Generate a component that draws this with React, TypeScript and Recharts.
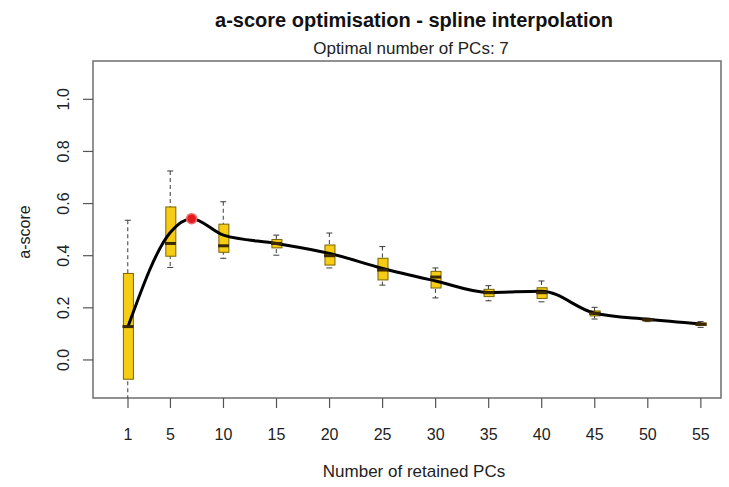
import React from 'react';
import {
    ComposedChart,
    Bar,
    Line,
    Scatter,
    XAxis,
    YAxis,
    ReferenceArea,
} from 'recharts';

// boxplots of a-score per number of retained PCs
const pcs = [1, 5, 10, 15, 20, 25, 30, 35, 40, 45, 50, 55];
const whiskerHigh = [0.536, 0.725, 0.607, 0.479, 0.487, 0.435, 0.353, 0.285, 0.303, 0.202, 0.16, 0.147];
const upperQuartile = [0.332, 0.587, 0.521, 0.462, 0.441, 0.39, 0.34, 0.271, 0.277, 0.188, 0.157, 0.142];
const medians = [0.128, 0.447, 0.438, 0.447, 0.4, 0.345, 0.318, 0.258, 0.258, 0.179, 0.154, 0.137];
const lowerQuartile = [-0.074, 0.398, 0.413, 0.43, 0.364, 0.307, 0.276, 0.243, 0.236, 0.169, 0.15, 0.132];
const whiskerLow = [-0.2, 0.355, 0.39, 0.402, 0.353, 0.287, 0.238, 0.227, 0.223, 0.157, 0.147, 0.125];

// spline through the mean a-scores
const splinePcs = [1, 5, 7, 10, 15, 20, 25, 30, 35, 40, 45, 50, 55];
const splineScores = [0.128, 0.49, 0.542, 0.479, 0.447, 0.409, 0.351, 0.303, 0.259, 0.264, 0.179, 0.156, 0.138];

const optimalPc = 7;
const optimalScore = 0.542;

const yTicks = [0, 0.2, 0.4, 0.6, 0.8, 1.0];

const X_DOMAIN: [number, number] = [-2.3, 56.9];
const Y_DOMAIN: [number, number] = [-0.146, 1.147];

const FONT = '"Liberation Sans", Arial, Helvetica, sans-serif';

const boxData = pcs.map((pc, i) => ({
    pc,
    lo: whiskerLow[i],
    q1: lowerQuartile[i],
    med: medians[i],
    q3: upperQuartile[i],
    hi: whiskerHigh[i],
}));

const splineData = splinePcs.map((pc, i) => ({ pc, score: splineScores[i] }));
const optimalData = [{ pc: optimalPc, score: optimalScore }];

const WhiskerShape = (props: any) => {
    const { x, y, width, height } = props;
    if (x == null || y == null) return null;
    const cx = x + width / 2;
    const top = Math.min(y, y + height);
    const bottom = Math.max(y, y + height);
    return (
        <g stroke="#3a3a3a" strokeWidth={1}>
            <line x1={cx} x2={cx} y1={top} y2={bottom} strokeDasharray="4 3" />
            <line x1={cx - 3} x2={cx + 3} y1={top} y2={top} />
            <line x1={cx - 3} x2={cx + 3} y1={bottom} y2={bottom} />
        </g>
    );
};

const BoxShape = (props: any) => {
    const { x, y, width, height } = props;
    if (x == null || y == null) return null;
    const top = Math.min(y, y + height);
    const h = Math.abs(height);
    return <rect x={x} y={top} width={width} height={h} fill="#f6cc14" stroke="#7a6400" strokeWidth={1} />;
};

const MedianShape = (props: any) => {
    const { cx, cy } = props;
    if (cx == null || cy == null) return null;
    return <line x1={cx - 5.5} x2={cx + 5.5} y1={cy} y2={cy} stroke="#3a2800" strokeWidth={3} />;
};

const OptimalShape = (props: any) => {
    const { cx, cy } = props;
    if (cx == null || cy == null) return null;
    return <circle cx={cx} cy={cy} r={5} fill="#e31a1c" stroke="#f06a6a" strokeWidth={1.5} />;
};

const XTick = (props: any) => {
    const { x, y, payload } = props;
    return (
        <text x={x} y={y + 30} textAnchor="middle" fontSize={16} fontFamily={FONT} fill="#222">
            {payload.value}
        </text>
    );
};

const YTick = (props: any) => {
    const { y, payload } = props;
    return (
        <text
            x={69}
            y={y}
            transform={`rotate(-90, 69, ${y})`}
            textAnchor="middle"
            fontSize={16}
            fontFamily={FONT}
            fill="#222"
        >
            {Number(payload.value).toFixed(1)}
        </text>
    );
};

export default function App() {
    return (
        <div style={{ position: 'absolute', left: 0, top: 0, width: 729, height: 487, background: '#fff' }}>
            <ComposedChart
                width={729}
                height={487}
                data={boxData}
                margin={{ top: 61, right: 8, left: 0, bottom: 0 }}
            >
                <XAxis
                    xAxisId="main"
                    type="number"
                    dataKey="pc"
                    domain={X_DOMAIN}
                    ticks={pcs}
                    interval={0}
                    allowDataOverflow
                    axisLine={false}
                    tickSize={10}
                    tickLine={{ stroke: '#555', strokeWidth: 1.2 }}
                    tick={<XTick />}
                    height={89}
                />
                <XAxis xAxisId="w" type="number" dataKey="pc" domain={X_DOMAIN} allowDataOverflow hide />
                <YAxis
                    type="number"
                    domain={Y_DOMAIN}
                    ticks={yTicks}
                    interval={0}
                    allowDataOverflow
                    axisLine={false}
                    tickSize={10}
                    tickLine={{ stroke: '#555', strokeWidth: 1.2 }}
                    tick={<YTick />}
                    width={93}
                />
                <ReferenceArea
                    xAxisId="main"
                    x1={X_DOMAIN[0]}
                    x2={X_DOMAIN[1]}
                    y1={Y_DOMAIN[0]}
                    y2={Y_DOMAIN[1]}
                    fill="none"
                    stroke="#6e6e6e"
                    strokeWidth={1.5}
                    ifOverflow="visible"
                />
                <Bar
                    xAxisId="w"
                    dataKey={(d: any) => [d.lo, d.hi]}
                    barSize={10}
                    shape={<WhiskerShape />}
                    isAnimationActive={false}
                />
                <Bar
                    xAxisId="main"
                    dataKey={(d: any) => [d.q1, d.q3]}
                    barSize={10}
                    shape={<BoxShape />}
                    isAnimationActive={false}
                />
                <Scatter
                    xAxisId="main"
                    data={boxData}
                    dataKey="med"
                    shape={<MedianShape />}
                    isAnimationActive={false}
                />
                <Line
                    xAxisId="main"
                    data={splineData}
                    dataKey="score"
                    type="monotone"
                    stroke="#000"
                    strokeWidth={3}
                    dot={false}
                    activeDot={false}
                    isAnimationActive={false}
                />
                <Scatter
                    xAxisId="main"
                    data={optimalData}
                    dataKey="score"
                    shape={<OptimalShape />}
                    isAnimationActive={false}
                />
            </ComposedChart>
            <svg
                width={729}
                height={487}
                style={{ position: 'absolute', left: 0, top: 0, pointerEvents: 'none' }}
                fontFamily={FONT}
            >
                <text x={414} y={27} textAnchor="middle" fontSize={20} fontWeight="bold" fill="#111">
                    a-score optimisation - spline interpolation
                </text>
                <text x={411} y={54} textAnchor="middle" fontSize={17} fill="#222">
                    Optimal number of PCs: 7
                </text>
                <text x={414} y={477} textAnchor="middle" fontSize={17} fill="#222">
                    Number of retained PCs
                </text>
                <text x={30} y={232} transform="rotate(-90, 30, 232)" textAnchor="middle" fontSize={16} fill="#222">
                    a-score
                </text>
            </svg>
        </div>
    );
}
